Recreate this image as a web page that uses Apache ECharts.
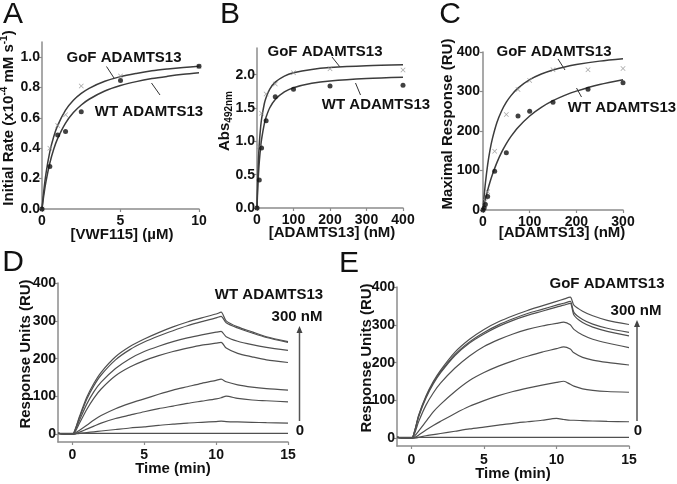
<!DOCTYPE html>
<html>
<head>
<meta charset="utf-8">
<script src="https://cdn.jsdelivr.net/npm/echarts@6/dist/echarts.min.js"></script>
<style>
  html, body { margin: 0; padding: 0; background: #fff; }
  #chart { width: 677px; height: 484px; }
</style>
</head>
<body>
<div id="chart"></div>
<script>
// ---- panel A : initial rate vs [VWF115]
const aConc = [0, 0.5, 1, 1.5, 2.5, 5, 10];
const aGofRate = [0, 0.40, 0.55, 0.62, 0.81, 0.876, 0.94];
const aWtRate = [0, 0.28, 0.487, 0.51, 0.64, 0.847, 0.94];
const aFitX = [0, 0.1, 0.25, 0.5, 0.75, 1, 1.5, 2, 2.5, 3, 4, 5, 6, 7, 8, 9, 10];
const aGofFit = [0, 0.107, 0.232, 0.378, 0.478, 0.551, 0.651, 0.716, 0.761, 0.795, 0.841, 0.872, 0.893, 0.910, 0.922, 0.932, 0.940];
const aWtFit = [0, 0.080, 0.179, 0.303, 0.395, 0.465, 0.566, 0.635, 0.685, 0.723, 0.777, 0.813, 0.839, 0.859, 0.874, 0.887, 0.897];

// ---- panel B : Abs492 vs [ADAMTS13]
const bConc = [0, 6.25, 12.5, 25, 50, 100, 200, 400];
const bGofAbs = [0, 0.92, 1.42, 1.71, 1.86, 2.03, 2.09, 2.07];
const bWtAbs = [0, 0.42, 0.90, 1.31, 1.67, 1.78, 1.83, 1.84];
const bFitX = [0, 1, 2, 4, 6.25, 10, 12.5, 20, 25, 35, 50, 75, 100, 150, 200, 300, 400];
const bGofFit = [0, 0.243, 0.438, 0.730, 0.961, 1.217, 1.335, 1.564, 1.659, 1.783, 1.888, 1.979, 2.028, 2.079, 2.106, 2.133, 2.147];
const bWtFit = [0, 0.155, 0.289, 0.505, 0.692, 0.918, 1.031, 1.263, 1.365, 1.504, 1.629, 1.741, 1.804, 1.870, 1.906, 1.942, 1.961];

// ---- panel C : maximal response vs [ADAMTS13]
const cConc = [0, 2.5, 5, 10, 25, 50, 75, 100, 150, 225, 300];
const cGofRU = [0, 12, 22, 46, 149, 242, 305, 328, 355, 355, 358];
const cWtRU = [0, 5, 14, 34, 98, 145, 238, 250, 273, 306, 322];
const cFitX = [0, 2, 5, 10, 15, 20, 30, 40, 50, 60, 75, 100, 125, 150, 175, 200, 250, 300];
const cGofFit = [0, 29.4, 66.5, 114.8, 151.3, 180.0, 222.0, 251.3, 273.0, 289.6, 308.4, 329.8, 344.2, 354.5, 362.2, 368.2, 376.9, 383.0];
const cWtFit = [0, 11.1, 26.7, 50.0, 70.7, 89.2, 120.6, 146.4, 168.0, 186.3, 209.1, 238.1, 259.9, 276.7, 290.1, 301.0, 317.8, 330.0];

// ---- panel D : WT ADAMTS13 sensorgrams (top trace = 300 nM, bottom = 0)
const dTime = [-1, 0, 0.2, 0.5, 1, 1.5, 2, 3, 4, 5, 6, 7, 8, 9, 10, 10.35, 10.7, 11.5, 12.5, 13.5, 15];
const wtTrace1 = [3, 0, 14, 48, 98, 135, 164, 205, 232, 252, 269, 284, 297, 308, 318, 323, 300, 284, 271, 258, 245];
const wtTrace2 = [3, 0, 13, 45, 93, 129, 157, 197, 224, 244, 260, 274, 287, 298, 308, 312, 295, 281, 268, 256, 243];
const wtTrace3 = [3, 0, 11, 38, 80, 113, 138, 174, 200, 219, 233, 245, 255, 263, 270, 272, 258, 246, 237, 230, 222];
const wtTrace4 = [3, 0, 8, 30, 66, 96, 120, 155, 178, 195, 208, 219, 228, 236, 241, 243, 228, 214, 205, 197, 190];
const wtTrace5 = [3, 0, 4, 11, 24, 38, 50, 68, 82, 94, 106, 117, 126, 135, 143, 146, 139, 131, 125, 121, 117];
const wtTrace6 = [3, 0, 2, 6, 14, 22, 30, 42, 51, 60, 68, 75, 82, 88, 94, 97, 101, 95, 91, 89, 86];
const wtTrace7 = [3, 0, 1, 3, 5, 7, 9, 13, 17, 20, 24, 27, 30, 32, 34, 35, 34, 33, 32, 31, 30];
const wtTrace8 = [3, 3, 3, 3, 3, 3, 3, 3, 3, 3, 3, 3, 3, 3, 3, 3, 3, 3, 3, 3, 3];

// ---- panel E : GoF ADAMTS13 sensorgrams
const eTime = [-1, 0, 0.2, 0.5, 1, 1.5, 2, 3, 4, 5, 6, 7, 8, 9, 10, 10.5, 10.95, 11.2, 11.8, 12.5, 13.5, 15];
const gofTrace1 = [3, 0, 18, 62, 112, 150, 180, 228, 262, 288, 308, 324, 338, 350, 362, 368, 373, 352, 336, 324, 312, 301];
const gofTrace2 = [3, 0, 17, 60, 110, 147, 176, 222, 255, 280, 300, 316, 330, 341, 352, 357, 362, 333, 314, 302, 291, 280];
const gofTrace3 = [3, 0, 16, 58, 107, 144, 173, 219, 252, 276, 296, 312, 325, 336, 347, 352, 357, 326, 306, 294, 283, 271];
const gofTrace4 = [3, 0, 12, 45, 88, 120, 146, 186, 218, 243, 261, 276, 288, 297, 304, 307, 300, 288, 273, 262, 252, 240];
const gofTrace5 = [3, 0, 6, 20, 45, 70, 90, 124, 153, 174, 191, 205, 217, 228, 237, 242, 236, 226, 214, 207, 201, 194];
const gofTrace6 = [3, 0, 2, 9, 22, 34, 45, 66, 85, 100, 113, 124, 133, 141, 148, 151, 143, 138, 131, 127, 124, 122];
const gofTrace7 = [3, 0, 1, 3, 7, 10, 13, 19, 25, 30, 35, 40, 44, 48, 53, 50, 48, 48, 47, 46, 45, 44];
const gofTrace8 = [3, 3, 3, 3, 3, 3, 3, 3, 3, 3, 3, 3, 3, 3, 3, 3, 3, 3, 3, 3, 3, 3];

const FONT = '"Liberation Sans", Arial, sans-serif';
const AXIS_GREY = '#8c8c8c';
const CURVE = '#3c3c3c';
const CROSS = 'path://M0,1L1,0L5,4L9,0L10,1L6,5L10,9L9,10L5,6L1,10L0,9L4,5Z';

const pairs = (xs, ys) => xs.map((x, i) => [x, ys[i]]);

function makeAxis(gridIndex, min, max, ticks, opts) {
  const o = opts || {};
  return {
    type: "value",
    gridIndex,
    min,
    max,
    splitLine: { show: false },
    axisLine: { show: true, onZero: false, lineStyle: { color: AXIS_GREY, width: 1.5 } },
    axisTick: { show: true, length: 3, customValues: ticks, lineStyle: { color: AXIS_GREY, width: 1.2 } },
    axisLabel: {
      customValues: ticks,
      margin: o.margin || 3,
      color: "#111",
      fontFamily: FONT,
      fontWeight: "bold",
      fontSize: 14,
      formatter: o.fmt || (v => String(v))
    }
  };
}

function fitLine(ax, xs, ys) {
  return {
    type: "line", xAxisIndex: ax, yAxisIndex: ax,
    data: pairs(xs, ys), showSymbol: false, smooth: 0.3, silent: true,
    lineStyle: { color: CURVE, width: 1.5 }
  };
}

function points(ax, xs, ys, gof) {
  return {
    type: "scatter", xAxisIndex: ax, yAxisIndex: ax, silent: true,
    data: pairs(xs, ys),
    symbol: gof ? CROSS : "circle",
    symbolSize: 5,
    itemStyle: { color: gof ? "#8f8f8f" : "#111" },
    z: 5
  };
}

function trace(ax, ts, ys) {
  return {
    type: "line", xAxisIndex: ax, yAxisIndex: ax,
    data: pairs(ts, ys), showSymbol: false, smooth: 0.25, silent: true,
    lineStyle: { color: "#505050", width: 1.2 }
  };
}

function label(x, y, text, size, weight, extra) {
  return Object.assign({
    type: "text", x, y, silent: true,
    style: {
      text, fill: "#111",
      font: (weight || "bold") + " " + (size || 15) + "px " + FONT,
      align: "center", verticalAlign: "middle"
    }
  }, extra || {});
}

function vLabel(x, y, text, rich) {
  return {
    type: "text", x, y, rotation: Math.PI / 2, silent: true,
    style: {
      text, fill: "#111",
      font: "bold 15px " + FONT,
      align: "center", verticalAlign: "middle",
      rich
    }
  };
}

function leader(x1, y1, x2, y2) {
  return { type: "line", silent: true, shape: { x1, y1, x2, y2 }, style: { stroke: "#333", lineWidth: 1 } };
}

function arrow(x, yBottom, yTip) {
  return [
    { type: "line", silent: true, shape: { x1: x, y1: yBottom, x2: x, y2: yTip + 5 }, style: { stroke: "#555", lineWidth: 1.5 } },
    { type: "polygon", silent: true, shape: { points: [[x, yTip], [x - 3, yTip + 7], [x + 3, yTip + 7]] }, style: { fill: "#444" } }
  ];
}

const supRich = {
  n: { font: "bold 15px " + FONT, lineHeight: 19, fill: "#111" },
  s: { font: "bold 10px " + FONT, verticalAlign: "top", lineHeight: 19, fill: "#111" },
  b: { font: "bold 10px " + FONT, verticalAlign: "bottom", lineHeight: 19, fill: "#111" }
};

const chart = echarts.init(document.getElementById("chart"), null, { renderer: "canvas" });

chart.setOption({
  animation: false,
  backgroundColor: "#fff",
  grid: [
    { left: 42, top: 42, width: 157, height: 167 },
    { left: 257, top: 48, width: 146, height: 160 },
    { left: 483, top: 52, width: 140, height: 158 },
    { left: 58, top: 283, width: 230, height: 159 },
    { left: 397, top: 287, width: 232, height: 159 }
  ],
  xAxis: [
    makeAxis(0, 0, 10, [0, 5, 10], { margin: 5 }),
    makeAxis(1, 0, 400, [0, 100, 200, 300, 400], { margin: 5 }),
    makeAxis(2, 0, 300, [0, 100, 200, 300], { margin: 5 }),
    makeAxis(3, -1, 15, [0, 5, 10, 15], { margin: 6 }),
    makeAxis(4, -1, 15, [0, 5, 10, 15], { margin: 7 })
  ],
  yAxis: [
    makeAxis(0, 0, 1.1, [0, 0.2, 0.4, 0.6, 0.8, 1.0], { fmt: v => v.toFixed(1), margin: 2 }),
    makeAxis(1, 0, 2.4, [0, 0.5, 1, 1.5, 2], { fmt: v => v.toFixed(1), margin: 2 }),
    makeAxis(2, 0, 400, [0, 100, 200, 300, 400], { margin: 3 }),
    makeAxis(3, -20, 400, [0, 100, 200, 300, 400], { margin: 2 }),
    makeAxis(4, -20, 400, [0, 100, 200, 300, 400], { margin: 2 })
  ],
  series: [
    fitLine(0, aFitX, aGofFit), fitLine(0, aFitX, aWtFit),
    points(0, aConc, aGofRate, true), points(0, aConc, aWtRate, false),
    fitLine(1, bFitX, bGofFit), fitLine(1, bFitX, bWtFit),
    points(1, bConc, bGofAbs, true), points(1, bConc, bWtAbs, false),
    fitLine(2, cFitX, cGofFit), fitLine(2, cFitX, cWtFit),
    points(2, cConc, cGofRU, true), points(2, cConc, cWtRU, false),
    ...[wtTrace1, wtTrace2, wtTrace3, wtTrace4, wtTrace5, wtTrace6, wtTrace7, wtTrace8].map(t => trace(3, dTime, t)),
    ...[gofTrace1, gofTrace2, gofTrace3, gofTrace4, gofTrace5, gofTrace6, gofTrace7, gofTrace8].map(t => trace(4, eTime, t))
  ],
  graphic: [
    // panel letters
    label(13, 15, "A", 30, "normal"),
    label(230, 15, "B", 30, "normal"),
    label(450, 15, "C", 30, "normal"),
    label(13, 263, "D", 30, "normal"),
    label(349, 264, "E", 30, "normal"),

    // axis titles
    vLabel(9, 118, "{n|Initial Rate (x10}{s|-4}{n| mM s}{s|-1}{n|)}", supRich),
    vLabel(225, 121, "{n|Abs}{b|492nm}", supRich),
    vLabel(448, 124, "Maximal Response (RU)"),
    vLabel(26, 354, "Response Units (RU)"),
    vLabel(367, 358, "Response Units (RU)"),
    label(122, 235, "[VWF115] (\u00b5M)"),
    label(332, 233, "[ADAMTS13] (nM)"),
    label(562, 233, "[ADAMTS13] (nM)"),
    label(173, 469, "Time (min)"),
    label(513, 474, "Time (min)"),

    // curve annotations
    label(124, 58, "GoF ADAMTS13"), leader(106.5, 66.5, 114, 78),
    label(149, 112, "WT ADAMTS13"), leader(151.5, 83, 160, 95),
    label(325, 52, "GoF ADAMTS13"), leader(332, 57, 340, 67),
    label(376, 105, "WT ADAMTS13"), leader(355.5, 83, 360.5, 95),
    label(554, 52, "GoF ADAMTS13"), leader(558, 59, 565, 70),
    label(622, 108, "WT ADAMTS13"), leader(576.5, 88, 581.5, 97),

    // sensorgram labels
    label(269, 295, "WT ADAMTS13"),
    label(297, 317, "300 nM"),
    label(300, 431, "0"),
    ...arrow(299.5, 421, 326),
    label(607, 284, "GoF ADAMTS13"),
    label(636, 311, "300 nM"),
    label(638, 431, "0"),
    ...arrow(637, 421, 320)
  ]
});
</script>
</body>
</html>
